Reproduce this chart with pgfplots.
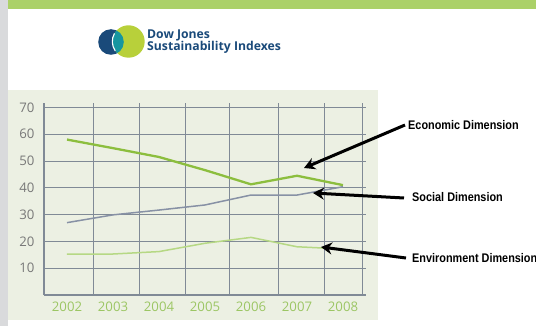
\documentclass[border=0pt]{standalone}
\usepackage{pgfplots}
\pgfplotsset{compat=1.18}
\usetikzlibrary{arrows.meta}
\usepackage{fontspec}
\setmainfont{Open Sans}
\newfontfamily\annfont{Liberation Sans}
\definecolor{topbar}{RGB}{171,209,104}
\definecolor{leftstrip}{RGB}{217,218,220}
\definecolor{panel}{RGB}{236,240,227}
\definecolor{econ}{RGB}{140,190,62}
\definecolor{social}{RGB}{135,145,165}
\definecolor{env}{RGB}{182,216,132}
\definecolor{gridc}{RGB}{128,138,150}
\definecolor{ylab}{RGB}{120,120,120}
\definecolor{xlab}{RGB}{156,198,100}
\definecolor{djblue}{RGB}{26,74,122}
\definecolor{djgreen}{RGB}{184,208,58}
\definecolor{djteal}{RGB}{22,150,160}
\begin{document}
\begin{tikzpicture}[x=1pt,y=1pt]
\useasboundingbox (0,0) rectangle (536,-326);
\fill[white] (0,0) rectangle (536,-326);
\fill[leftstrip] (0,0) rectangle (8,-326);
\fill[topbar] (8,0) rectangle (536,-9);
\fill[panel] (8,-90) rectangle (378,-320);
% logo
\fill[djblue] (111,-42) circle (12.8);
\fill[djgreen] (128.5,-41.5) circle (16.2);
\begin{scope}
\clip (111,-42) circle (12.8);
\fill[djteal] (128.5,-41.5) circle (16.2);
\end{scope}
\draw[white,line width=1.1pt] (128.5,-41.5) ++(150:16.2) arc (150:215:16.2);
\node[anchor=west,text=djblue,font=\fontsize{12.2}{10.5}\selectfont\bfseries,align=left,inner sep=0pt] at (147,-41.5) {Dow Jones\\[-1.5pt]Sustainability Indexes};
\begin{axis}[
  at={(44pt,-295pt)}, anchor=south west,
  scale only axis, width=322pt, height=191.6pt,
  xmin=2001.5, xmax=2008.5, ymin=0, ymax=71.5,
  axis x line*=bottom, axis y line*=left,
  axis line style={gridc, line width=1.1pt, -},
  xtick={2002.58,2003.57,2004.57,2005.54,2006.59,2007.59,2008.43},
  xticklabels={},
  extra x ticks={2002,2003,2004,2005,2006,2007,2008},
  extra x tick labels={2002,2003,2004,2005,2006,2007,2008},
  extra x tick style={grid=none, major tick length=0pt},
  ytick={10,20,30,40,50,60,70},
  major tick length=0pt,
  xmajorgrids, ymajorgrids,
  grid style={gridc, line width=0.9pt},
  x tick label style={text=xlab, font=\fontsize{13.2}{12}\selectfont, yshift=-3pt},
  y tick label style={text=ylab, font=\fontsize{13.2}{12}\selectfont, xshift=-6pt},
  /pgf/number format/1000 sep={},
  /pgf/number format/assume math mode=true,
  clip=false,
]
\addplot[econ, line width=2.3pt] coordinates {(2002,58) (2003,54.8) (2004,51.5) (2005,46.6) (2006,41.3) (2007,44.5) (2008,41)};
\addplot[social, line width=1.5pt] coordinates {(2002,27) (2003,29.9) (2004,31.7) (2005,33.6) (2006,37.3) (2007,37.3) (2008,40.4)};
\addplot[env, line width=1.5pt] coordinates {(2002,15.3) (2003,15.3) (2004,16.2) (2005,19.3) (2006,21.5) (2007,18) (2007.6,17.5)};
\end{axis}
% arrows
\draw[black, line width=3pt, -{Stealth[length=11pt,width=12pt]}] (405,-125) -- (304,-168);
\draw[black, line width=3pt, -{Stealth[length=11pt,width=12pt]}] (404,-198) -- (313,-193);
\draw[black, line width=3pt, -{Stealth[length=11pt,width=12pt]}] (406,-258) -- (321,-247);
\node[anchor=west, inner sep=0pt] at (408,-125) {\annfont\bfseries\fontsize{12.5}{12}\selectfont\scalebox{0.87}[1]{Economic Dimension}};
\node[anchor=west, inner sep=0pt] at (412,-197) {\annfont\bfseries\fontsize{12.5}{12}\selectfont\scalebox{0.87}[1]{Social Dimension}};
\node[anchor=west, inner sep=0pt] at (412,-258) {\annfont\bfseries\fontsize{12.5}{12}\selectfont\scalebox{0.87}[1]{Environment Dimension}};
\end{tikzpicture}
\end{document}
